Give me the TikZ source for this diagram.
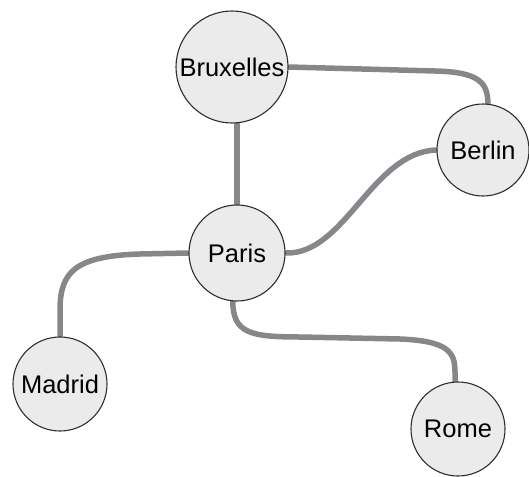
\documentclass[tikz,border=0pt]{standalone}
\usepackage{fontspec}
\setmainfont{Liberation Sans}
\usetikzlibrary{backgrounds}
\definecolor{edgegray}{HTML}{86878A}
\definecolor{nodefill}{HTML}{EBEBEB}
\definecolor{nodeline}{HTML}{2E2E2E}
\begin{document}
\begin{tikzpicture}[x=1pt,y=-1pt,
  city/.style={circle,draw=nodeline,line width=1.1pt,fill=nodefill,inner sep=0pt,
    font=\fontsize{25.5}{28}\selectfont},
  link/.style={draw=edgegray,line width=5.5pt,line cap=round}]
\useasboundingbox (0,0) rectangle (529,476);
\node[city,minimum size=112pt] (bru) at (232,67) {Bruxelles};
\node[city,minimum size=92pt] (ber) at (483,150) {Berlin};
\node[city,minimum size=96pt] (par) at (237,253) {Paris};
\node[city,minimum size=94pt] (mad) at (60,384) {Madrid};
\node[city,minimum size=94pt] (rom) at (458,429) {Rome};
\begin{pgfonlayer}{background}
\path[link] (par.north) -- (par.north |- bru.south);
\path[link] (bru.east) -- (435,71) .. controls (478,72) and (488,82) .. (ber.84);
\path[link] (par.east) .. controls (345,255) and (372,152) .. (ber.west);
\path[link] (par.west) -- (140,254) .. controls (75,256) and (60,272) .. (60,310) -- (mad.north);
\path[link] (par.265) .. controls (233,333) and (250,337) .. (300,337) -- (400,339) .. controls (448,341) and (455,352) .. (455,372) -- (rom.north -| 455,372);
\end{pgfonlayer}
\end{tikzpicture}
\end{document}
